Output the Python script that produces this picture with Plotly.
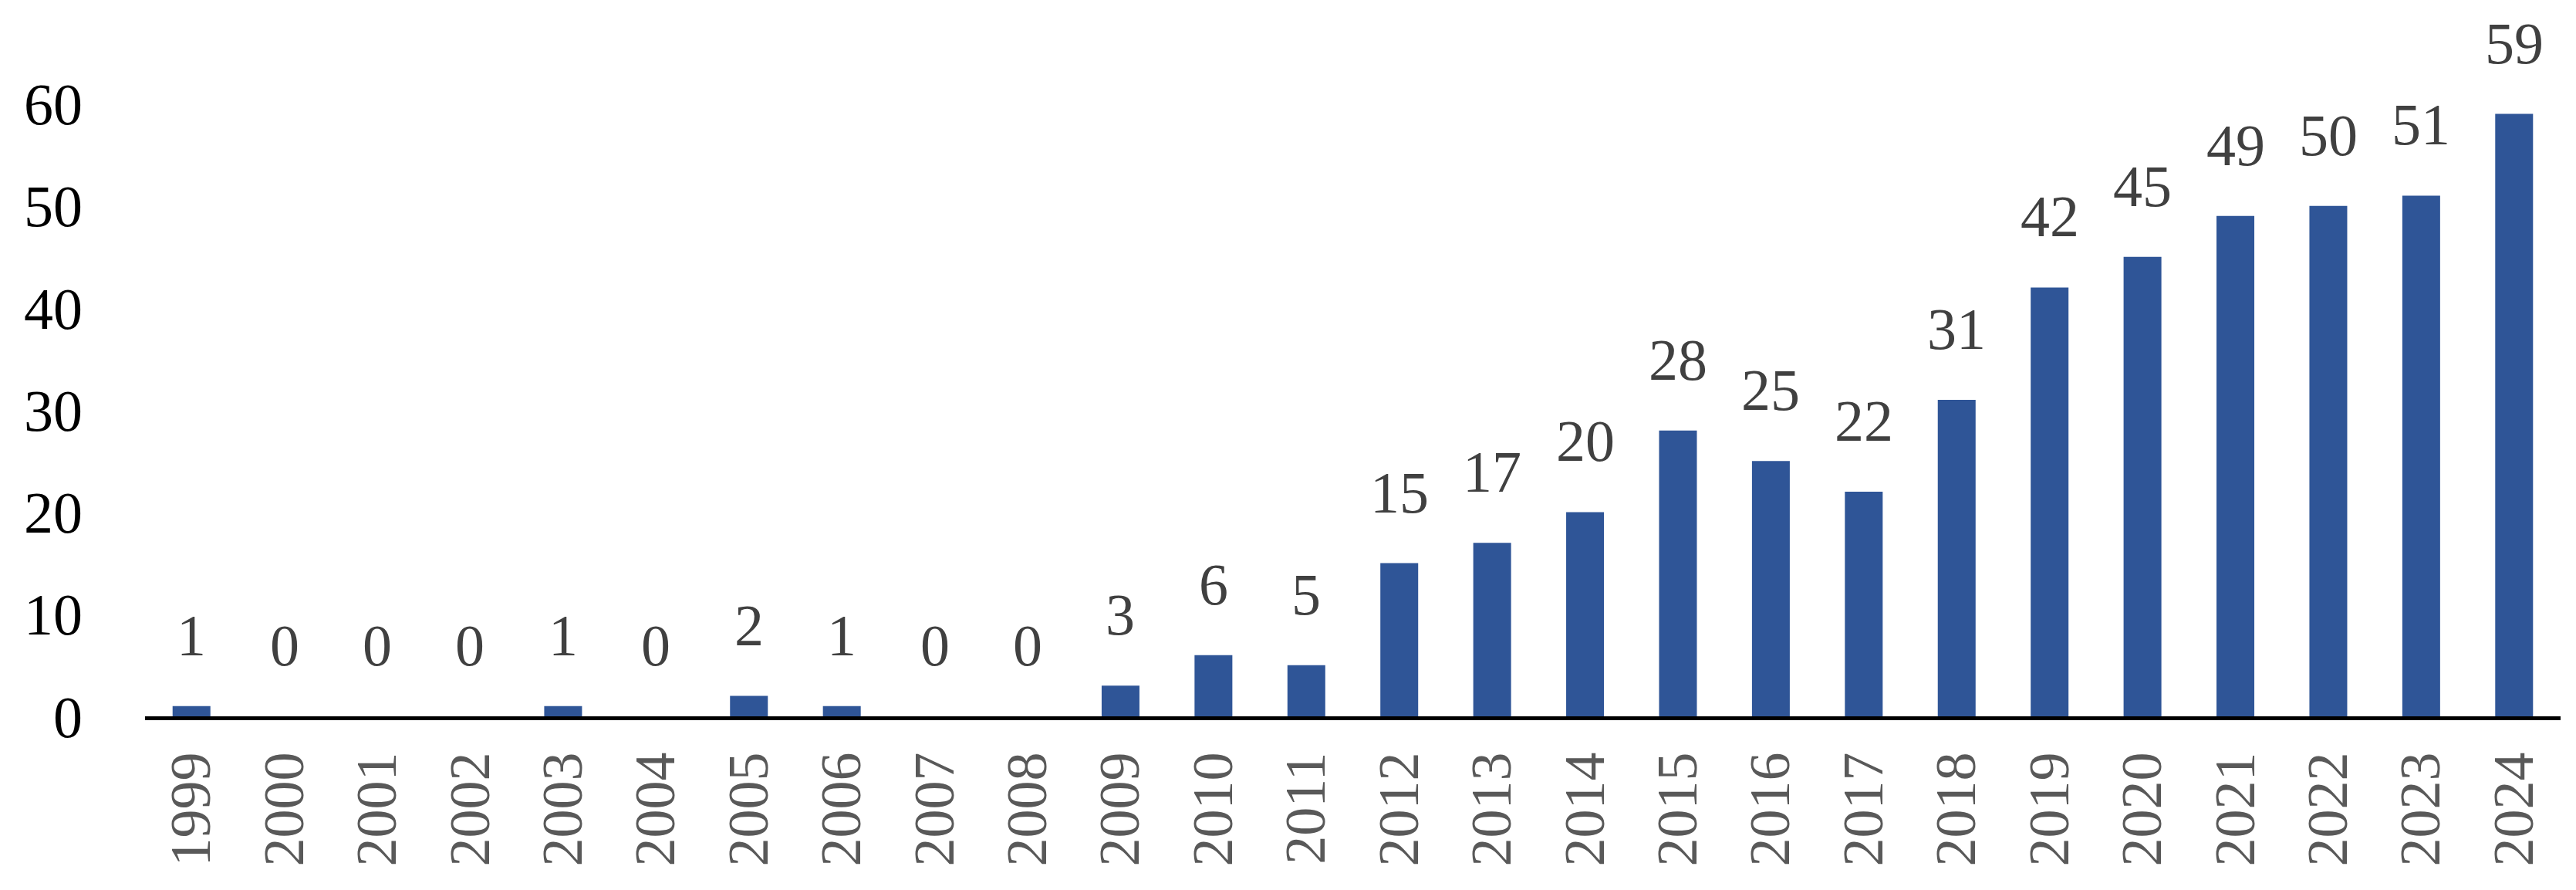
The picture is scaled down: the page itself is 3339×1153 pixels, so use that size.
import plotly.graph_objects as go

years = [str(y) for y in range(1999, 2025)]
counts = [1, 0, 0, 0, 1, 0, 2, 1, 0, 0, 3, 6, 5, 15, 17, 20, 28, 25, 22, 31, 42, 45, 49, 50, 51, 59]
y_ticks = [0, 10, 20, 30, 40, 50, 60]

FONT = "Liberation Serif"

fig = go.Figure()
fig.add_trace(go.Bar(
    x=years, y=counts,
    marker=dict(color="#2F5597", line=dict(width=0)),
    hoverinfo="x+y",
))

# annotations on a category axis are positioned by category index
for i, v in enumerate(counts):
    fig.add_annotation(
        x=i, y=v, text=str(v), showarrow=False,
        yanchor="bottom", yshift=48,
        font=dict(family=FONT, size=76, color="#404040"),
    )

fig.update_layout(
    width=3339, height=1153,
    margin=dict(l=180, r=28, t=47, b=233),
    paper_bgcolor="white", plot_bgcolor="white",
    bargap=0.593,
    showlegend=False,
)
fig.update_xaxes(
    type="category",
    range=[-0.5, len(years) - 0.5],
    showline=True, linecolor="black", linewidth=5,
    showgrid=False, ticks="",
    tickangle=-90,
    ticklabelstandoff=12,
    tickfont=dict(family=FONT, size=74, color="#595959"),
)
fig.update_yaxes(
    range=[0, 66],
    tickvals=y_ticks,
    showgrid=False, zeroline=False, showline=False, ticks="",
    ticklabelstandoff=80,
    tickfont=dict(family=FONT, size=76, color="black"),
)

fig.write_html("out.html")
